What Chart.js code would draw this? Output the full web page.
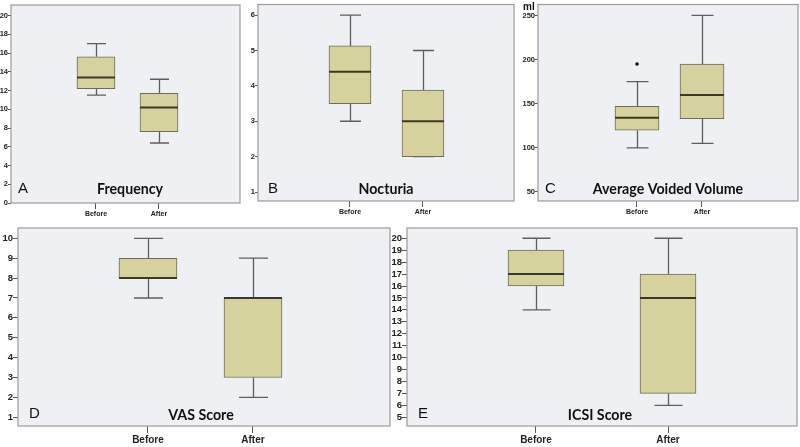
<!DOCTYPE html>
<html><head><meta charset="utf-8">
<script src="https://cdn.jsdelivr.net/npm/chart.js@4.4.0/dist/chart.umd.min.js"></script>
<style>
html,body{margin:0;padding:0;background:#fff;width:800px;height:447px;overflow:hidden}
canvas{position:absolute}
</style></head><body>
<canvas id="cA"></canvas><canvas id="cB"></canvas><canvas id="cC"></canvas><canvas id="cD"></canvas><canvas id="cE"></canvas>
<script>
// ---- data ----
const categories = ['Before', 'After'];

const freqMin = [11.5, 6.4], freqQ1 = [12.2, 7.6], freqMed = [13.4, 10.2], freqQ3 = [15.6, 11.7], freqMax = [17.0, 13.2];
const freqTicks = [0, 2, 4, 6, 8, 10, 12, 14, 16, 18, 20];

const noctMin = [3.0, 2.0], noctQ1 = [3.5, 2.0], noctMed = [4.4, 3.0], noctQ3 = [5.13, 3.88], noctMax = [6.0, 5.0];
const noctTicks = [1, 2, 3, 4, 5, 6];

const avvMin = [100, 105], avvQ1 = [120, 133], avvMed = [134, 160], avvQ3 = [147, 195], avvMax = [175, 250];
const avvOutliers = [[195], []];
const avvTicks = [50, 100, 150, 200, 250];

const vasMin = [7, 2], vasQ1 = [8, 3], vasMed = [8, 7], vasQ3 = [9, 7], vasMax = [10, 9];
const vasTicks = [1, 2, 3, 4, 5, 6, 7, 8, 9, 10];

const icsiMin = [14, 6], icsiQ1 = [16, 7], icsiMed = [17, 15], icsiQ3 = [19, 17], icsiMax = [20, 20];
const icsiTicks = [5, 6, 7, 8, 9, 10, 11, 12, 13, 14, 15, 16, 17, 18, 19, 20];

// ---- styling / layout ----
const BG = '#eff0f4', BOX = '#d6d29e', BOXLINE = '#6e6c58', MED = '#3a3826', WHISK = '#5e5e5e', FRAME = '#9a9a9a';
const smallTick = {family: "'Liberation Sans Narrow','Liberation Sans',Arial,sans-serif", size: 7.5, weight: 'bold'};
const bigTick = {family: "'Liberation Sans',Arial,sans-serif", size: 9.5, weight: 'bold'};
const smallCat = {family: "'Liberation Sans Narrow','Liberation Sans',Arial,sans-serif", size: 7, weight: 'bold'};
const bigCat = {family: "'Liberation Sans',Arial,sans-serif", size: 10, weight: 'bold'};

const panels = [
  {id: 'cA', canvas: [0, 0, 246, 220], area: [11, 5, 240, 203], y: [0, 21.12], x: [-0.349, 3.286], box: 38,
   mn: freqMin, q1: freqQ1, md: freqMed, q3: freqQ3, mx: freqMax, out: null, ticks: freqTicks,
   letter: 'A', lx: 18, ly: 189, title: 'Frequency', tx: 130, ty: 189, small: true},
  {id: 'cB', canvas: [246, 0, 270, 220], area: [258, 4, 514, 201], y: [0.746, 6.3], x: [-0.26, 3.247], box: 42,
   mn: noctMin, q1: noctQ1, md: noctMed, q3: noctQ3, mx: noctMax, out: null, ticks: noctTicks,
   letter: 'B', lx: 268, ly: 189, title: 'Nocturia', tx: 386, ty: 189, small: true},
  {id: 'cC', canvas: [516, 0, 284, 220], area: [538, 4, 798, 201], y: [39.8, 262.4], x: [-0.523, 3.477], box: 44,
   mn: avvMin, q1: avvQ1, md: avvMed, q3: avvQ3, mx: avvMax, out: avvOutliers, ticks: avvTicks,
   letter: 'C', lx: 545, ly: 189, title: 'Average Voided Volume', tx: 668, ty: 189, small: true, unit: 'ml'},
  {id: 'cD', canvas: [0, 220, 391, 227], area: [18, 228, 390, 426], y: [0.56, 10.52], x: [-0.238, 3.305], box: 58,
   mn: vasMin, q1: vasQ1, md: vasMed, q3: vasQ3, mx: vasMax, out: null, ticks: vasTicks,
   letter: 'D', lx: 29, ly: 414, title: 'VAS Score', tx: 201, ty: 415, small: false},
  {id: 'cE', canvas: [391, 220, 409, 227], area: [407, 228, 797, 426], y: [4.27, 20.86], x: [0.023, 2.977], box: 56,
   mn: icsiMin, q1: icsiQ1, md: icsiMed, q3: icsiQ3, mx: icsiMax, out: null, ticks: icsiTicks,
   letter: 'E', lx: 418, ly: 414, title: 'ICSI Score', tx: 600, ty: 415, small: false}
];

function boxPlugin(p) {
  const ox = p.canvas[0], oy = p.canvas[1];
  return {
    id: 'box' + p.id,
    beforeDraw(chart) {
      const {ctx, chartArea: a} = chart;
      ctx.save(); ctx.fillStyle = BG; ctx.fillRect(a.left, a.top, a.width, a.height); ctx.restore();
    },
    beforeDatasetsDraw(chart) {
      const ctx = chart.ctx, xs = chart.scales.x, ys = chart.scales.y;
      ctx.save(); ctx.strokeStyle = WHISK; ctx.lineWidth = 1.3;
      categories.forEach((c, i) => {
        const x = Math.round(xs.getPixelForValue(i + 1)) + 0.5;
        const half = p.box / 4;
        const yMin = ys.getPixelForValue(p.mn[i]), yQ1 = ys.getPixelForValue(p.q1[i]);
        const yQ3 = ys.getPixelForValue(p.q3[i]), yMax = ys.getPixelForValue(p.mx[i]);
        ctx.beginPath();
        ctx.moveTo(x, yMax); ctx.lineTo(x, yQ3);
        ctx.moveTo(x, yQ1); ctx.lineTo(x, yMin);
        ctx.moveTo(x - half, yMax); ctx.lineTo(x + half, yMax);
        ctx.moveTo(x - half, yMin); ctx.lineTo(x + half, yMin);
        ctx.stroke();
      });
      ctx.restore();
    },
    afterDatasetsDraw(chart) {
      const ctx = chart.ctx, xs = chart.scales.x, ys = chart.scales.y;
      ctx.save(); ctx.strokeStyle = MED; ctx.lineWidth = 2;
      categories.forEach((c, i) => {
        const x = xs.getPixelForValue(i + 1);
        const y = ys.getPixelForValue(p.md[i]);
        ctx.beginPath(); ctx.moveTo(x - p.box / 2, y); ctx.lineTo(x + p.box / 2, y); ctx.stroke();
        if (p.out) {
          ctx.fillStyle = '#111';
          p.out[i].forEach(v => {
            ctx.beginPath(); ctx.arc(x, ys.getPixelForValue(v), 1.8, 0, Math.PI * 2); ctx.fill();
          });
        }
      });
      ctx.restore();
    },
    afterDraw(chart) {
      const {ctx, chartArea: a} = chart;
      ctx.save();
      ctx.strokeStyle = FRAME; ctx.lineWidth = 1.2;
      ctx.strokeRect(a.left, a.top, a.width, a.height);
      ctx.fillStyle = '#111'; ctx.textBaseline = 'middle';
      ctx.font = "15px 'Liberation Sans',Arial,sans-serif"; ctx.textAlign = 'left';
      ctx.fillText(p.letter, p.lx - ox, p.ly - oy);
      ctx.font = "bold 14.2px Lato,'Open Sans',sans-serif"; ctx.textAlign = 'center';
      ctx.fillText(p.title, p.tx - ox, p.ty - oy);
      if (p.unit) {
        ctx.font = "bold 10px 'Liberation Sans',Arial,sans-serif"; ctx.textAlign = 'left';
        ctx.fillText(p.unit, 523 - ox, 7 - oy);
      }
      ctx.restore();
    }
  };
}

panels.forEach(p => {
  const cv = document.getElementById(p.id);
  const [cl, ct, cw, ch] = p.canvas;
  cv.width = cw; cv.height = ch;
  cv.style.left = cl + 'px'; cv.style.top = ct + 'px';
  cv.style.width = cw + 'px'; cv.style.height = ch + 'px';
  const [ax0, ay0, ax1, ay1] = p.area;
  const yW = ax0 - cl, xH = (ct + ch) - ay1;
  new Chart(cv, {
    type: 'bar',
    data: {
      datasets: [{
        data: categories.map((c, i) => ({x: i + 1, y: [p.q1[i], p.q3[i]]})),
        backgroundColor: BOX, borderColor: BOXLINE, borderWidth: 1, borderSkipped: false,
        barThickness: p.box
      }]
    },
    options: {
      responsive: false, animation: false, devicePixelRatio: 1, events: [],
      layout: {padding: {left: 0, top: ay0 - ct, right: (cl + cw) - ax1, bottom: 0}},
      plugins: {legend: {display: false}, tooltip: {enabled: false}},
      scales: {
        x: {
          type: 'linear', min: p.x[0], max: p.x[1], offset: false,
          afterBuildTicks: s => { s.ticks = categories.map((c, i) => ({value: i + 1})); },
          afterFit: s => { s.height = xH; },
          ticks: {callback: v => categories[v - 1], font: p.small ? smallCat : bigCat, color: '#222',
                  padding: p.small ? 1 : 1, maxRotation: 0, autoSkip: false},
          grid: {drawOnChartArea: false, drawTicks: true, offset: false, tickLength: p.small ? 6 : 7, color: '#555', lineWidth: 1},
          border: {display: false}
        },
        y: {
          type: 'linear', min: p.y[0], max: p.y[1],
          afterBuildTicks: s => { s.ticks = p.ticks.map(v => ({value: v})); },
          afterFit: s => { s.width = yW; },
          ticks: {font: p.small ? smallTick : bigTick, color: '#222', padding: 0, autoSkip: false},
          grid: {drawOnChartArea: false, drawTicks: true, tickLength: p.small ? 3 : 5, color: '#555', lineWidth: 1},
          border: {display: false}
        }
      }
    },
    plugins: [boxPlugin(p)]
  });
});
</script>
</body></html>
